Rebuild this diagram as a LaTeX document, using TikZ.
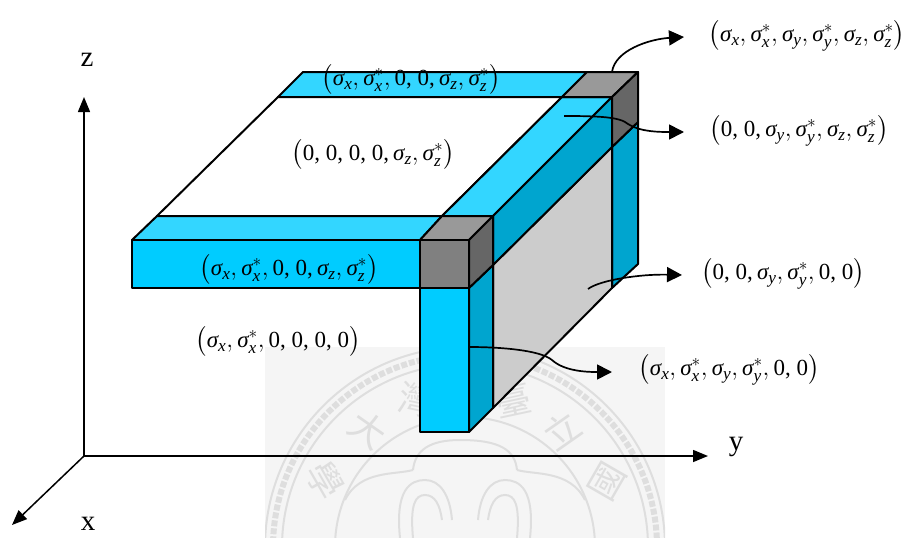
\documentclass[tikz,border=0pt]{standalone}
\usepackage{amsmath}
\usepackage{fontspec}
\usetikzlibrary{arrows.meta}
\setmainfont{Liberation Serif}
\newfontfamily\sealfont{Noto Sans CJK TC}
\definecolor{fronta}{RGB}{0,204,255}
\definecolor{topa}{RGB}{51,214,255}
\definecolor{sidea}{RGB}{0,165,207}
\definecolor{sealbg}{RGB}{245,245,245}
\definecolor{sealink}{RGB}{222,222,222}
\DeclareMathSizes{23}{23}{17.28}{12}
\newcommand{\sgm}{\text{\itshape σ}}
\newcommand{\sgp}[1]{\sgm_{\mathit{#1}}}
\newcommand{\sgs}[1]{\sgm_{\mathit{#1}}^{*}}
\newcommand{\tup}[1]{$\left(\rule[-10pt]{0pt}{20pt}#1\right)$}
\begin{document}
\begin{tikzpicture}[x=1pt,y=-1pt,
face/.style={draw=black,line width=2pt,line join=round},
axis/.style={-{Triangle[length=15pt,width=12pt]},line width=1.5pt},
lead/.style={-{Triangle[length=15pt,width=15pt]},line width=1.7pt},
tag/.style={font=\fontsize{23}{26}\selectfont,inner sep=0pt},
axname/.style={font=\fontsize{29}{32}\selectfont,inner sep=0pt},
seal/.style={sealink,line width=2pt},
sealch/.style={sealink,font=\sealfont\fontsize{36}{36}\selectfont,inner sep=0pt}]
\useasboundingbox (0,0) rectangle (908,538);

% faded seal behind the drawing
\fill[sealbg] (265,347) rectangle (665,538);
\begin{scope}
\clip (265,347) rectangle (665,538);
\draw[seal,line width=6pt,dotted] (465,547) circle (192);
\draw[seal] (465,547) circle (200);
\draw[seal] (465,547) circle (183);
\draw[seal] (465,547) circle (130);
\draw[seal] (413,470) .. controls (415,450) and (430,440) .. (460,440) .. controls (500,440) and (515,450) .. (517,470);
\draw[seal] (400,538) .. controls (395,490) and (410,480) .. (425,480) .. controls (440,480) and (450,495) .. (452,520);
\draw[seal] (530,538) .. controls (535,490) and (520,480) .. (505,480) .. controls (490,480) and (480,495) .. (478,520);
\draw[seal] (413,538) .. controls (410,505) and (415,495) .. (425,495) .. controls (435,495) and (440,505) .. (442,520);
\draw[seal] (517,538) .. controls (520,505) and (515,495) .. (505,495) .. controls (495,495) and (490,505) .. (488,520);
\draw[seal] (345,500) .. controls (360,470) and (395,475) .. (413,470);
\draw[seal] (585,500) .. controls (570,470) and (535,475) .. (517,470);
\node[sealch,rotate=-35](sealda)at(368,430){大};
\node[sealch,rotate=-12](sealwan)at(417,400){灣};
\node[sealch,rotate=12](sealtai)at(513,400){臺};
\node[sealch,rotate=35](sealli)at(562,430){立};
\node[sealch,rotate=-60](sealxue)at(325,480){學};
\node[sealch,rotate=60](sealguo)at(607,482){國};
\end{scope}

% axes
\coordinate(o)at(84,456);
\coordinate(zend)at(84,97);
\coordinate(yend)at(708,456);
\coordinate(xend)at(12,525);
\draw[axis](o)--(zend);
\draw[axis](o)--(yend);
\draw[axis](o)--(xend);
\node[axname](zname)at(87,60){z};
\node[axname](yname)at(736,447){y};
\node[axname](xname)at(88,524){x};

% back strip and inner sheet
\filldraw[face,fill=topa](303,72)--(587,72)--(562,97)--(278,97)--cycle;
\filldraw[face,fill=white](278,97)--(562,97)--(442,216)--(157,216)--cycle;
% right column and panel
\filldraw[face,fill=sidea](612,147)--(638,122)--(638,264)--(612,288)--cycle;
\filldraw[face,fill=black!20](493,265)--(612,147)--(612,288)--(493,408)--cycle;
% long beam
\filldraw[face,fill=topa](442,216)--(562,97)--(612,97)--(493,216)--cycle;
\filldraw[face,fill=sidea](493,216)--(612,97)--(612,147)--(493,265)--cycle;
% far corner block
\filldraw[face,fill=black!40](587,72)--(638,72)--(612,97)--(562,97)--cycle;
\filldraw[face,fill=black!60](612,97)--(638,72)--(638,122)--(612,147)--cycle;
% front strip
\filldraw[face,fill=topa](157,216)--(442,216)--(420,240)--(132,240)--cycle;
\filldraw[face,fill=fronta](132,240)rectangle(420,288);
% near column
\filldraw[face,fill=fronta](420,288)rectangle(469,432);
\filldraw[face,fill=sidea](469,288)--(493,265)--(493,408)--(469,432)--cycle;
% near corner block
\filldraw[face,fill=black!40](420,240)--(442,216)--(493,216)--(469,240)--cycle;
\filldraw[face,fill=black!50](420,240)rectangle(469,288);
\filldraw[face,fill=black!60](469,240)--(493,216)--(493,265)--(469,288)--cycle;

% labels
\node[tag](all)at(807,36){\tup{\sgp{x},\sgs{x},\sgp{y},\sgs{y},\sgp{z},\sgs{z}}};
\node[tag](yz)at(799,131){\tup{\text{0, 0,}\,\sgp{y},\sgs{y},\sgp{z},\sgs{z}}};
\node[tag](yonly)at(783,274){\tup{\text{0, 0,}\,\sgp{y},\sgs{y},\text{0, 0}}};
\node[tag](xy)at(729,370){\tup{\sgp{x},\sgs{x},\sgp{y},\sgs{y},\text{0, 0}}};
\node[tag](xzback)at(411,80){\tup{\sgp{x},\sgs{x},\text{0, 0,}\,\sgp{z},\sgs{z}}};
\node[tag](zonly)at(373,155){\tup{\text{0, 0, 0, 0,}\,\sgp{z},\sgs{z}}};
\node[tag](xzfront)at(289,270){\tup{\sgp{x},\sgs{x},\text{0, 0,}\,\sgp{z},\sgs{z}}};
\node[tag](xonly)at(278,342){\tup{\sgp{x},\sgs{x},\text{0, 0, 0, 0}}};

% leaders
\coordinate(corner)at(612,72);
\coordinate(beam)at(564,116);
\coordinate(panel)at(588,289);
\coordinate(column)at(469,347);
\coordinate(allend)at(684,37);
\coordinate(yzend)at(684,132);
\coordinate(yonlyend)at(682,275);
\coordinate(xyend)at(612,372);
\draw[lead](corner)..controls(615,50)and(650,39)..(allend);
\draw[lead](beam)..controls(600,116)and(620,117)..(628,124)..controls(640,132)and(660,132)..(yzend);
\draw[lead](panel)..controls(600,280)and(640,274)..(yonlyend);
\draw[lead](column)..controls(500,347)and(540,350)..(552,360)..controls(565,372)and(590,372)..(xyend);
\end{tikzpicture}
\end{document}
